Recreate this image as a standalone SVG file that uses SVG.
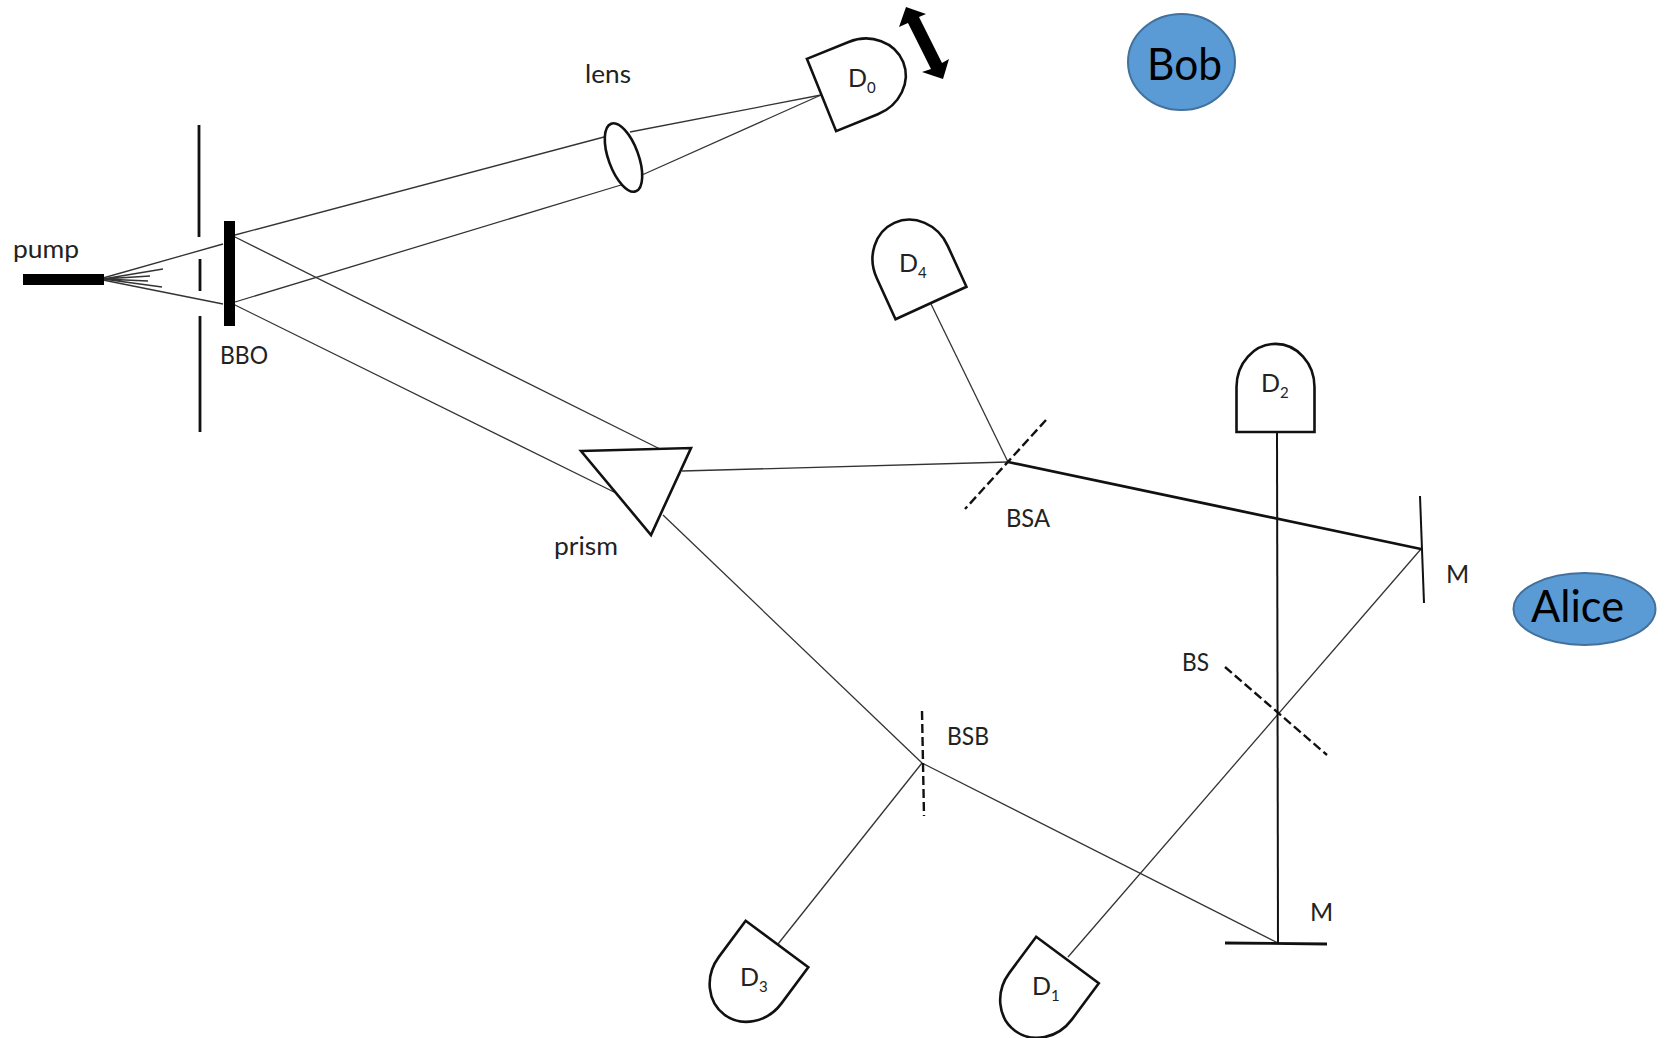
<svg xmlns="http://www.w3.org/2000/svg" width="1665" height="1038" viewBox="0 0 1665 1038">
<style>
.ray{stroke:#333;stroke-width:1.3;fill:none}
.mid{stroke:#111;stroke-width:2;fill:none}
.thick{stroke:#111;stroke-width:2.8;fill:none}
.dash{stroke:#111;stroke-width:2.4;fill:none;stroke-dasharray:9 4}
.shape{stroke:#111;stroke-width:2.6;fill:#fff}
.person{fill:#5B9BD5;stroke:#41719C;stroke-width:2}
text{font-family:Lato,"Open Sans","Liberation Sans",sans-serif;fill:#222}
.lab{font-size:25px}
.big{font-size:44px;fill:#000}
.det{font-size:25px}
.sub{font-size:15px}
</style>
<defs>
<path id="dome" class="shape" d="M-39 0V-45A38 42 0 0 1 39 -45V0Z"/>
</defs>
<rect width="1665" height="1038" fill="#fff"/>
<g id="connectors">
<path class="ray" d="M103 278L223 244"/>
<path class="ray" d="M103 280L223 304"/>
<path class="ray" d="M103 279L163 269M103 279L150 276M103 279L148 281M103 279L162 287"/>
<path class="ray" d="M235 235L604 137"/>
<path class="ray" d="M235 302L621 185"/>
<path class="ray" d="M630 132L821 95"/>
<path class="ray" d="M642 175L821 95"/>
<path class="ray" d="M233 236L660 449"/>
<path class="ray" d="M233 304L616 493"/>
<path class="ray" d="M682 471L1008 462"/>
<path class="ray" d="M663 515L922 763"/>
<path class="ray" d="M931 304L1008 462"/>
<path class="ray" d="M922 763L778 944"/>
<path class="ray" d="M922 763L1278 943"/>
<path class="ray" d="M1068 957L1421 549"/>
<path class="thick" d="M1008 462L1421 549"/>
<path class="mid" d="M1277 432L1278 943"/>
</g>
<g id="pump"><rect x="23" y="274" width="81" height="11" fill="#000"/><text class="lab" x="13" y="258" textLength="66" lengthAdjust="spacingAndGlyphs">pump</text></g>
<g id="aperture"><path class="thick" d="M199 125V237M200 259V291M200 316V432"/></g>
<g id="bbo"><rect x="224" y="221" width="11" height="105" fill="#000"/><text class="lab" x="220" y="364" textLength="48" lengthAdjust="spacingAndGlyphs">BBO</text></g>
<g id="lens"><ellipse class="shape" cx="623.5" cy="157.5" rx="15" ry="36" transform="rotate(-20 623.5 157.5)"/><text class="lab" x="585" y="83" textLength="46" lengthAdjust="spacingAndGlyphs">lens</text></g>
<g id="prism"><path class="shape" d="M581 451L691 448L651 535Z"/><text class="lab" x="554" y="555" textLength="64" lengthAdjust="spacingAndGlyphs">prism</text></g>
<g id="d0"><use href="#dome" transform="translate(821.5 95) rotate(68)"/><text class="det" x="848" y="87">D<tspan class="sub" dy="6">0</tspan></text></g>
<g id="d4"><use href="#dome" transform="translate(931 303) rotate(-24.6)"/><text class="det" x="899" y="272">D<tspan class="sub" dy="6">4</tspan></text></g>
<g id="d2"><use href="#dome" transform="translate(1275.500 432)"/><text class="det" x="1261" y="392">D<tspan class="sub" dy="6">2</tspan></text></g>
<g id="d1"><use href="#dome" transform="translate(1067.500 960) rotate(216.6)"/><text class="det" x="1032" y="995">D<tspan class="sub" dy="6">1</tspan></text></g>
<g id="d3"><use href="#dome" transform="translate(777 944) rotate(216.6)"/><text class="det" x="740" y="986">D<tspan class="sub" dy="6">3</tspan></text></g>
<g id="motion"><polygon fill="#000" points="906,7 926,14 919,17 942,63 949,59 943,79 922,72 931,69 908,23 899,27"/></g>
<g id="bsa"><path class="dash" d="M1046 420L965 509"/><text class="lab" x="1006" y="527" textLength="44" lengthAdjust="spacingAndGlyphs">BSA</text></g>
<g id="bsb"><path class="dash" d="M922 711L924 816"/><text class="lab" x="947" y="745" textLength="42" lengthAdjust="spacingAndGlyphs">BSB</text></g>
<g id="bs"><path class="dash" d="M1225 667L1327 755"/><text class="lab" x="1182" y="671" textLength="27" lengthAdjust="spacingAndGlyphs">BS</text></g>
<g id="m1"><path class="mid" d="M1420 496L1424 603"/><text class="lab" x="1446" y="583">M</text></g>
<g id="m2"><path class="thick" d="M1225 943L1327 944"/><text class="lab" x="1310" y="921">M</text></g>
<g id="bob"><ellipse class="person" cx="1181.500" cy="62" rx="53.500" ry="48"/><text class="big" x="1147" y="80" textLength="75" lengthAdjust="spacingAndGlyphs">Bob</text></g>
<g id="alice"><ellipse class="person" cx="1584.500" cy="609" rx="71" ry="36"/><text class="big" x="1531" y="622" textLength="93" lengthAdjust="spacingAndGlyphs">Alice</text></g>
</svg>
